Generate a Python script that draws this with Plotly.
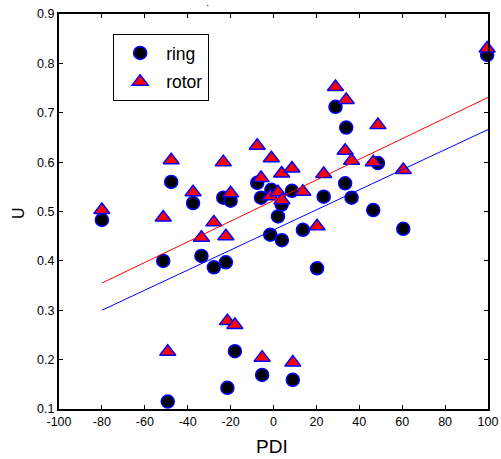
import plotly.graph_objects as go

# PDI values (shared x for both series)
pdi = [-80, -51.4, -49.3, -47.7, -37.5, -33.6, -27.8, -23.4, -22.2, -21.5,
       -20.0, -18.0, -7.6, -5.8, -5.3, -1.0, -1.5, 2.1, 3.8, 3.9,
       8.6, 9.0, 13.7, 20.3, 23.4, 28.9, 33.9, 33.4, 36.4, 46.5,
       48.7, 60.5, 99.6]

ring_u = [0.483, 0.400, 0.115, 0.560, 0.517, 0.410, 0.387, 0.528, 0.397, 0.143,
          0.522, 0.217, 0.558, 0.528, 0.169, 0.544, 0.453, 0.490, 0.514, 0.442,
          0.542, 0.159, 0.463, 0.385, 0.530, 0.712, 0.670, 0.557, 0.528, 0.503,
          0.598, 0.465, 0.817]

rotor_u = [0.503, 0.488, 0.216, 0.604, 0.539, 0.447, 0.478, 0.600, 0.450, 0.278,
           0.537, 0.270, 0.633, 0.568, 0.204, 0.608, 0.531, 0.539, 0.577, 0.523,
           0.587, 0.194, 0.540, 0.470, 0.576, 0.752, 0.726, 0.623, 0.603, 0.600,
           0.675, 0.584, 0.830]

# linear fit endpoints
fit_x = [-80, 100]
ring_fit = [0.300, 0.666]
rotor_fit = [0.355, 0.731]

x_ticks = [-100, -80, -60, -40, -20, 0, 20, 40, 60, 80, 100]
x_tick_text = ["-100", "-80", "-60", "-40", "-20", "0", "20", "40", "60", "80", "100"]
y_ticks = [0.1, 0.2, 0.3, 0.4, 0.5, 0.6, 0.7, 0.8, 0.9]
y_tick_text = ["0.1", "0.2", "0.3", "0.4", "0.5", "0.6", "0.7", "0.8", "0.9"]

font_family = "Liberation Sans, Arial, sans-serif"

fig = go.Figure()
fig.add_trace(go.Scatter(
    x=pdi, y=ring_u, mode="markers", name="ring", legendgroup="a",
    cliponaxis=False,
    marker=dict(symbol="circle", size=13, color="black",
                line=dict(color="blue", width=1.5))))
fig.add_trace(go.Scatter(
    x=pdi, y=rotor_u, mode="markers", name="rotor", legendgroup="b",
    cliponaxis=False,
    marker=dict(symbol="triangle-up", size=14, color="red",
                line=dict(color="blue", width=1.5))))
fig.add_trace(go.Scatter(
    x=fit_x, y=rotor_fit, mode="lines", showlegend=False,
    line=dict(color="red", width=1)))
fig.add_trace(go.Scatter(
    x=fit_x, y=ring_fit, mode="lines", showlegend=False,
    line=dict(color="blue", width=1)))

axis_common = dict(
    showline=True, linecolor="black", linewidth=2, mirror="ticks",
    ticks="inside", ticklen=4, tickwidth=1, tickcolor="black",
    showgrid=False, zeroline=False, automargin=False,
    tickfont=dict(family=font_family, size=12.5, color="black"),
)

L, R, T, B = 58.5, 13, 14, 50
W, H = 501, 459
pw, ph = W - L - R, H - T - B


def px_x(px):
    return (px - L) / pw


def px_y(py):
    return (H - B - py) / ph


fig.update_layout(
    width=W, height=H,
    margin=dict(l=L, r=R, t=T, b=B, pad=0),
    paper_bgcolor="white", plot_bgcolor="white",
    font=dict(family=font_family, color="black"),
    xaxis=dict(range=[-100, 100], tickmode="array", tickvals=x_ticks,
               ticktext=x_tick_text, **axis_common),
    yaxis=dict(range=[0.1, 0.9], tickmode="array", tickvals=y_ticks,
               ticktext=y_tick_text, **axis_common),
    legend=dict(x=px_x(112.7), y=px_y(34),
                xanchor="left", yanchor="top",
                bgcolor="white", bordercolor="black", borderwidth=1,
                font=dict(family=font_family, size=17.5, color="black"),
                itemsizing="trace", itemwidth=42, tracegroupgap=3),
    showlegend=True,
    annotations=[
        dict(text="PDI", x=px_x(271.7), y=px_y(446), xref="paper", yref="paper",
             showarrow=False, font=dict(family=font_family, size=19, color="black"),
             xanchor="center", yanchor="middle"),
        dict(text="U", x=px_x(17.5), y=px_y(213), xref="paper", yref="paper",
             showarrow=False, textangle=-90,
             font=dict(family=font_family, size=16, color="black"),
             xanchor="center", yanchor="middle"),
        dict(text="·", x=px_x(206.7), y=px_y(5), xref="paper", yref="paper",
             showarrow=False, font=dict(size=10, color="black"),
             xanchor="center", yanchor="middle"),
    ],
)

fig.write_html("out.html")
